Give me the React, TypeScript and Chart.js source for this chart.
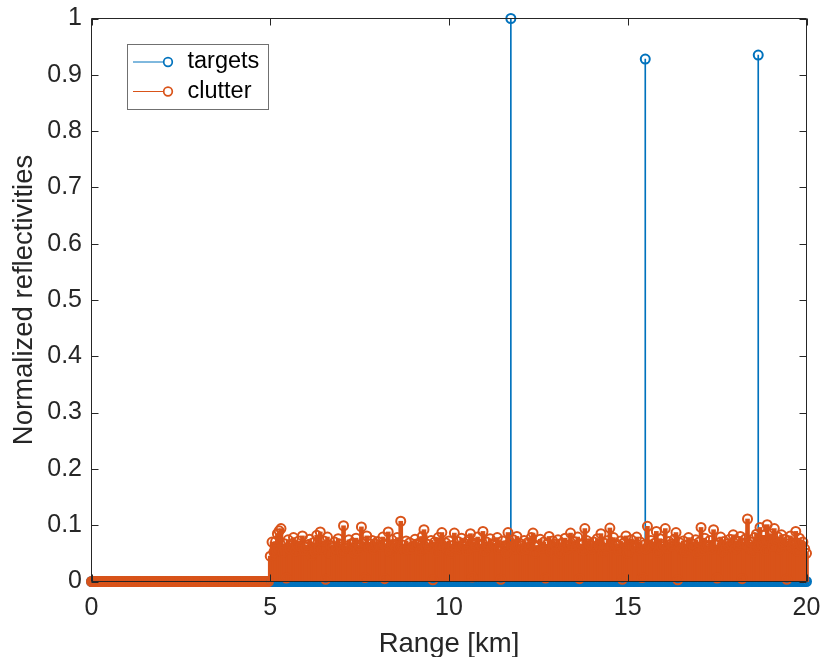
import React, { useEffect, useRef } from 'react';
import { Chart, registerables } from 'chart.js';

Chart.register(...registerables);

const BLUE = '#0072BD';
const ORANGE = '#D95319';
const FONT = "'Liberation Sans', Arial, Helvetica, sans-serif";

const RANGE_STEP_KM = 0.05;
const CLUTTER_START_KM = 5;
const TARGET_GRID_STEP_KM = 0.05;

const seriesNames = ['targets', 'clutter'];
const xTickValues = [0, 5, 10, 15, 20];
const yTickValues = [0, 0.1, 0.2, 0.3, 0.4, 0.5, 0.6, 0.7, 0.8, 0.9, 1];

// clutter reflectivity from 0 to 4.95 km (no clutter)
const nearRangeClutter = [
  0, 0, 0, 0, 0, 0, 0, 0, 0, 0, 0, 0, 0, 0, 0, 0, 0, 0, 0, 0,
  0, 0, 0, 0, 0, 0, 0, 0, 0, 0, 0, 0, 0, 0, 0, 0, 0, 0, 0, 0,
  0, 0, 0, 0, 0, 0, 0, 0, 0, 0, 0, 0, 0, 0, 0, 0, 0, 0, 0, 0,
  0, 0, 0, 0, 0, 0, 0, 0, 0, 0, 0, 0, 0, 0, 0, 0, 0, 0, 0, 0,
  0, 0, 0, 0, 0, 0, 0, 0, 0, 0, 0, 0, 0, 0, 0, 0, 0, 0, 0, 0,
];

// clutter reflectivity from 5.00 to 20.00 km, one row per km
const clutterValues = [
  0.045, 0.07, 0.052, 0.071, 0.085, 0.09, 0.094, 0.052, 0.067, 0.006, 0.074, 0.058, 0.067, 0.078, 0.054, 0.063, 0.072, 0.062, 0.081, 0.055,
  0.061, 0.065, 0.075, 0.046, 0.069, 0.053, 0.082, 0.058, 0.088, 0.057, 0.072, 0.004, 0.079, 0.05, 0.064, 0.061, 0.07, 0.058, 0.076, 0.066,
  0.052, 0.099, 0.063, 0.059, 0.074, 0.059, 0.068, 0.051, 0.077, 0.055, 0.064, 0.097, 0.07, 0.007, 0.081, 0.061, 0.067, 0.073, 0.057, 0.066,
  0.071, 0.062, 0.062, 0.079, 0.005, 0.067, 0.088, 0.053, 0.074, 0.066, 0.06, 0.078, 0.06, 0.107, 0.065, 0.056, 0.072, 0.057, 0.069, 0.058,
  0.063, 0.075, 0.065, 0.068, 0.055, 0.08, 0.092, 0.061, 0.066, 0.059, 0.073, 0.003, 0.07, 0.052, 0.078, 0.061, 0.087, 0.063, 0.069, 0.057,
  0.072, 0.05, 0.064, 0.086, 0.059, 0.071, 0.058, 0.077, 0.064, 0.067, 0.055, 0.074, 0.085, 0.008, 0.068, 0.062, 0.079, 0.066, 0.065, 0.089,
  0.054, 0.07, 0.061, 0.076, 0.06, 0.066, 0.067, 0.078, 0.057, 0.004, 0.072, 0.063, 0.051, 0.087, 0.069, 0.062, 0.074, 0.058, 0.08, 0.065,
  0.067, 0.056, 0.073, 0.058, 0.069, 0.061, 0.078, 0.086, 0.05, 0.064, 0.063, 0.075, 0.059, 0.07, 0.006, 0.066, 0.08, 0.053, 0.072, 0.066,
  0.062, 0.074, 0.051, 0.068, 0.061, 0.077, 0.057, 0.065, 0.086, 0.064, 0.071, 0.06, 0.079, 0.005, 0.067, 0.055, 0.094, 0.073, 0.067, 0.064,
  0.058, 0.07, 0.062, 0.076, 0.063, 0.085, 0.052, 0.068, 0.059, 0.073, 0.095, 0.061, 0.078, 0.065, 0.066, 0.055, 0.072, 0.004, 0.069, 0.081,
  0.05, 0.067, 0.074, 0.061, 0.062, 0.079, 0.056, 0.07, 0.007, 0.065, 0.058, 0.098, 0.065, 0.073, 0.061, 0.068, 0.089, 0.052, 0.076, 0.062,
  0.066, 0.094, 0.059, 0.071, 0.066, 0.063, 0.075, 0.087, 0.003, 0.069, 0.057, 0.072, 0.052, 0.064, 0.078, 0.063, 0.067, 0.06, 0.074, 0.05,
  0.07, 0.096, 0.055, 0.077, 0.062, 0.064, 0.073, 0.058, 0.092, 0.065, 0.006, 0.069, 0.079, 0.053, 0.071, 0.061, 0.067, 0.075, 0.066, 0.083,
  0.057, 0.072, 0.064, 0.08, 0.005, 0.068, 0.076, 0.111, 0.059, 0.07, 0.052, 0.078, 0.084, 0.061, 0.096, 0.067, 0.082, 0.055, 0.101, 0.073,
  0.085, 0.063, 0.094, 0.071, 0.079, 0.058, 0.083, 0.066, 0.075, 0.004, 0.072, 0.081, 0.06, 0.068, 0.089, 0.054, 0.077, 0.065, 0.07, 0.058,
  0.05,
];

// target reflectivity on a 0.05 km grid from 0 to 20 km (zero away from the targets)
const targetBaseline = [
  0, 0, 0, 0, 0, 0, 0, 0, 0, 0, 0, 0, 0, 0, 0, 0, 0, 0, 0, 0,
  0, 0, 0, 0, 0, 0, 0, 0, 0, 0, 0, 0, 0, 0, 0, 0, 0, 0, 0, 0,
  0, 0, 0, 0, 0, 0, 0, 0, 0, 0, 0, 0, 0, 0, 0, 0, 0, 0, 0, 0,
  0, 0, 0, 0, 0, 0, 0, 0, 0, 0, 0, 0, 0, 0, 0, 0, 0, 0, 0, 0,
  0, 0, 0, 0, 0, 0, 0, 0, 0, 0, 0, 0, 0, 0, 0, 0, 0, 0, 0, 0,
  0, 0, 0, 0, 0, 0, 0, 0, 0, 0, 0, 0, 0, 0, 0, 0, 0, 0, 0, 0,
  0, 0, 0, 0, 0, 0, 0, 0, 0, 0, 0, 0, 0, 0, 0, 0, 0, 0, 0, 0,
  0, 0, 0, 0, 0, 0, 0, 0, 0, 0, 0, 0, 0, 0, 0, 0, 0, 0, 0, 0,
  0, 0, 0, 0, 0, 0, 0, 0, 0, 0, 0, 0, 0, 0, 0, 0, 0, 0, 0, 0,
  0, 0, 0, 0, 0, 0, 0, 0, 0, 0, 0, 0, 0, 0, 0, 0, 0, 0, 0, 0,
  0, 0, 0, 0, 0, 0, 0, 0, 0, 0, 0, 0, 0, 0, 0, 0, 0, 0, 0, 0,
  0, 0, 0, 0, 0, 0, 0, 0, 0, 0, 0, 0, 0, 0, 0, 0, 0, 0, 0, 0,
  0, 0, 0, 0, 0, 0, 0, 0, 0, 0, 0, 0, 0, 0, 0, 0, 0, 0, 0, 0,
  0, 0, 0, 0, 0, 0, 0, 0, 0, 0, 0, 0, 0, 0, 0, 0, 0, 0, 0, 0,
  0, 0, 0, 0, 0, 0, 0, 0, 0, 0, 0, 0, 0, 0, 0, 0, 0, 0, 0, 0,
  0, 0, 0, 0, 0, 0, 0, 0, 0, 0, 0, 0, 0, 0, 0, 0, 0, 0, 0, 0,
  0, 0, 0, 0, 0, 0, 0, 0, 0, 0, 0, 0, 0, 0, 0, 0, 0, 0, 0, 0,
  0, 0, 0, 0, 0, 0, 0, 0, 0, 0, 0, 0, 0, 0, 0, 0, 0, 0, 0, 0,
  0, 0, 0, 0, 0, 0, 0, 0, 0, 0, 0, 0, 0, 0, 0, 0, 0, 0, 0, 0,
  0, 0, 0, 0, 0, 0, 0, 0, 0, 0, 0, 0, 0, 0, 0, 0, 0, 0, 0, 0,
  0,
];
const targetRangesKm = [11.73, 15.49, 18.65];
const targetValues = [1.0, 0.928, 0.935];

const r3 = (v: number) => Math.round(v * 1000) / 1000;

const clutterPoints = [
  ...nearRangeClutter.map((v, i) => ({ x: r3(i * RANGE_STEP_KM), y: v })),
  ...clutterValues.map((v, i) => ({ x: r3(CLUTTER_START_KM + i * RANGE_STEP_KM), y: v })),
];
const targetSpikes = targetRangesKm.map((x, i) => ({ x, y: targetValues[i] }));
const targetPoints = [
  ...targetBaseline.map((v, i) => ({ x: r3(i * TARGET_GRID_STEP_KM), y: v })),
  ...targetSpikes,
];

const frameColor = '#262626';

const matlabFrame = {
  id: 'matlabFrame',
  afterDatasetsDraw(chart: any) {
    const { ctx, chartArea: a, scales } = chart;
    const tl = 7;
    ctx.save();
    ctx.strokeStyle = frameColor;
    ctx.lineWidth = 1;
    ctx.beginPath();
    ctx.rect(a.left, a.top, a.right - a.left, a.bottom - a.top);
    xTickValues.forEach((v) => {
      const px = Math.round(scales.x.getPixelForValue(v)) + 0.5;
      ctx.moveTo(px, a.bottom);
      ctx.lineTo(px, a.bottom - tl);
      ctx.moveTo(px, a.top);
      ctx.lineTo(px, a.top + tl);
    });
    yTickValues.forEach((v) => {
      const py = Math.round(scales.y.getPixelForValue(v)) + 0.5;
      ctx.moveTo(a.left, py);
      ctx.lineTo(a.left + tl, py);
      ctx.moveTo(a.right, py);
      ctx.lineTo(a.right - tl, py);
    });
    ctx.stroke();
    ctx.restore();
  },
};

const matlabLegend = {
  id: 'matlabLegend',
  afterDraw(chart: any) {
    const { ctx } = chart;
    const colors = [BLUE, ORANGE];
    const box = { x: 127.5, y: 44.5, w: 141, h: 65 };
    ctx.save();
    ctx.fillStyle = '#ffffff';
    ctx.fillRect(box.x, box.y, box.w, box.h);
    ctx.strokeStyle = '#707070';
    ctx.lineWidth = 1;
    ctx.strokeRect(box.x, box.y, box.w, box.h);
    seriesNames.forEach((name, i) => {
      const y = 62 + i * 29.5;
      ctx.strokeStyle = colors[i];
      ctx.lineWidth = 1;
      ctx.beginPath();
      ctx.moveTo(133, y);
      ctx.lineTo(163.5, y);
      ctx.stroke();
      ctx.lineWidth = 1.7;
      ctx.beginPath();
      ctx.arc(168, y, 4.3, 0, Math.PI * 2);
      ctx.stroke();
      ctx.fillStyle = '#000000';
      ctx.font = `23.5px ${FONT}`;
      ctx.textBaseline = 'middle';
      ctx.textAlign = 'left';
      ctx.fillText(name, 187.5, y);
    });
    ctx.restore();
  },
};

export default function App() {
  const ref = useRef<HTMLCanvasElement | null>(null);

  useEffect(() => {
    if (!ref.current) return;
    const chart = new Chart(ref.current, {
      type: 'scatter',
      data: {
        datasets: [
          {
            type: 'scatter',
            label: seriesNames[1],
            data: clutterPoints,
            showLine: false,
            pointStyle: 'circle',
            pointRadius: 4.5,
            pointBorderWidth: 2,
            pointBorderColor: ORANGE,
            pointBackgroundColor: 'rgba(0,0,0,0)',
            borderColor: ORANGE,
            backgroundColor: 'rgba(0,0,0,0)',
            order: 0,
            clip: false,
          } as any,
          {
            type: 'bar',
            label: seriesNames[1] + ' stems',
            data: clutterPoints,
            backgroundColor: ORANGE,
            borderWidth: 0,
            barThickness: 4,
            grouped: false,
            order: 1,
            clip: false,
          } as any,
          {
            type: 'scatter',
            label: seriesNames[0],
            data: targetPoints,
            showLine: false,
            pointStyle: 'circle',
            pointRadius: 4.5,
            pointBorderWidth: 2,
            pointBorderColor: BLUE,
            pointBackgroundColor: 'rgba(0,0,0,0)',
            borderColor: BLUE,
            backgroundColor: 'rgba(0,0,0,0)',
            order: 2,
            clip: false,
          } as any,
          {
            type: 'bar',
            label: seriesNames[0] + ' stems',
            data: targetSpikes,
            backgroundColor: BLUE,
            borderWidth: 0,
            barThickness: 1,
            grouped: false,
            order: 3,
            clip: false,
          } as any,
        ],
      },
      options: {
        responsive: false,
        animation: false,
        events: [],
        layout: { padding: { left: 0, top: 18.5, right: 15.5, bottom: 0 } },
        plugins: {
          legend: { display: false },
          tooltip: { enabled: false },
          title: { display: false },
        },
        scales: {
          x: {
            type: 'linear',
            min: 0,
            max: 20,
            offset: false,
            grid: { display: false, drawTicks: false },
            border: { display: false },
            afterBuildTicks: (s: any) => {
              s.ticks = xTickValues.map((v) => ({ value: v }));
            },
            afterFit: (s: any) => {
              s.height = 75.5;
              s.paddingLeft = 0;
              s.paddingRight = 0;
            },
            ticks: {
              color: frameColor,
              font: { family: FONT, size: 25 },
              padding: 12,
              maxRotation: 0,
              autoSkip: false,
            },
            title: {
              display: true,
              text: 'Range [km]',
              color: frameColor,
              font: { family: FONT, size: 27.5 },
              padding: { top: 0, bottom: -3.5 },
            },
          },
          y: {
            type: 'linear',
            min: 0,
            max: 1,
            grid: { display: false, drawTicks: false },
            border: { display: false },
            afterBuildTicks: (s: any) => {
              s.ticks = yTickValues.map((v) => ({ value: v }));
            },
            afterFit: (s: any) => {
              s.width = 91.5;
              s.paddingTop = 0;
              s.paddingBottom = 0;
            },
            ticks: {
              color: frameColor,
              font: { family: FONT, size: 25 },
              padding: 9.5,
              autoSkip: false,
              callback: (v: any) => String(Math.round(Number(v) * 10) / 10),
            },
            title: {
              display: true,
              text: 'Normalized reflectivities',
              color: frameColor,
              font: { family: FONT, size: 27.5 },
              padding: { top: 8, bottom: 0 },
            },
          },
        },
      },
      plugins: [matlabFrame, matlabLegend],
    } as any);
    return () => chart.destroy();
  }, []);

  return (
    <div style={{ position: 'fixed', left: 0, top: 0, width: 822, height: 657, background: '#fff' }}>
      <canvas ref={ref} width={822} height={657} style={{ display: 'block', width: 822, height: 657 }} />
    </div>
  );
}
